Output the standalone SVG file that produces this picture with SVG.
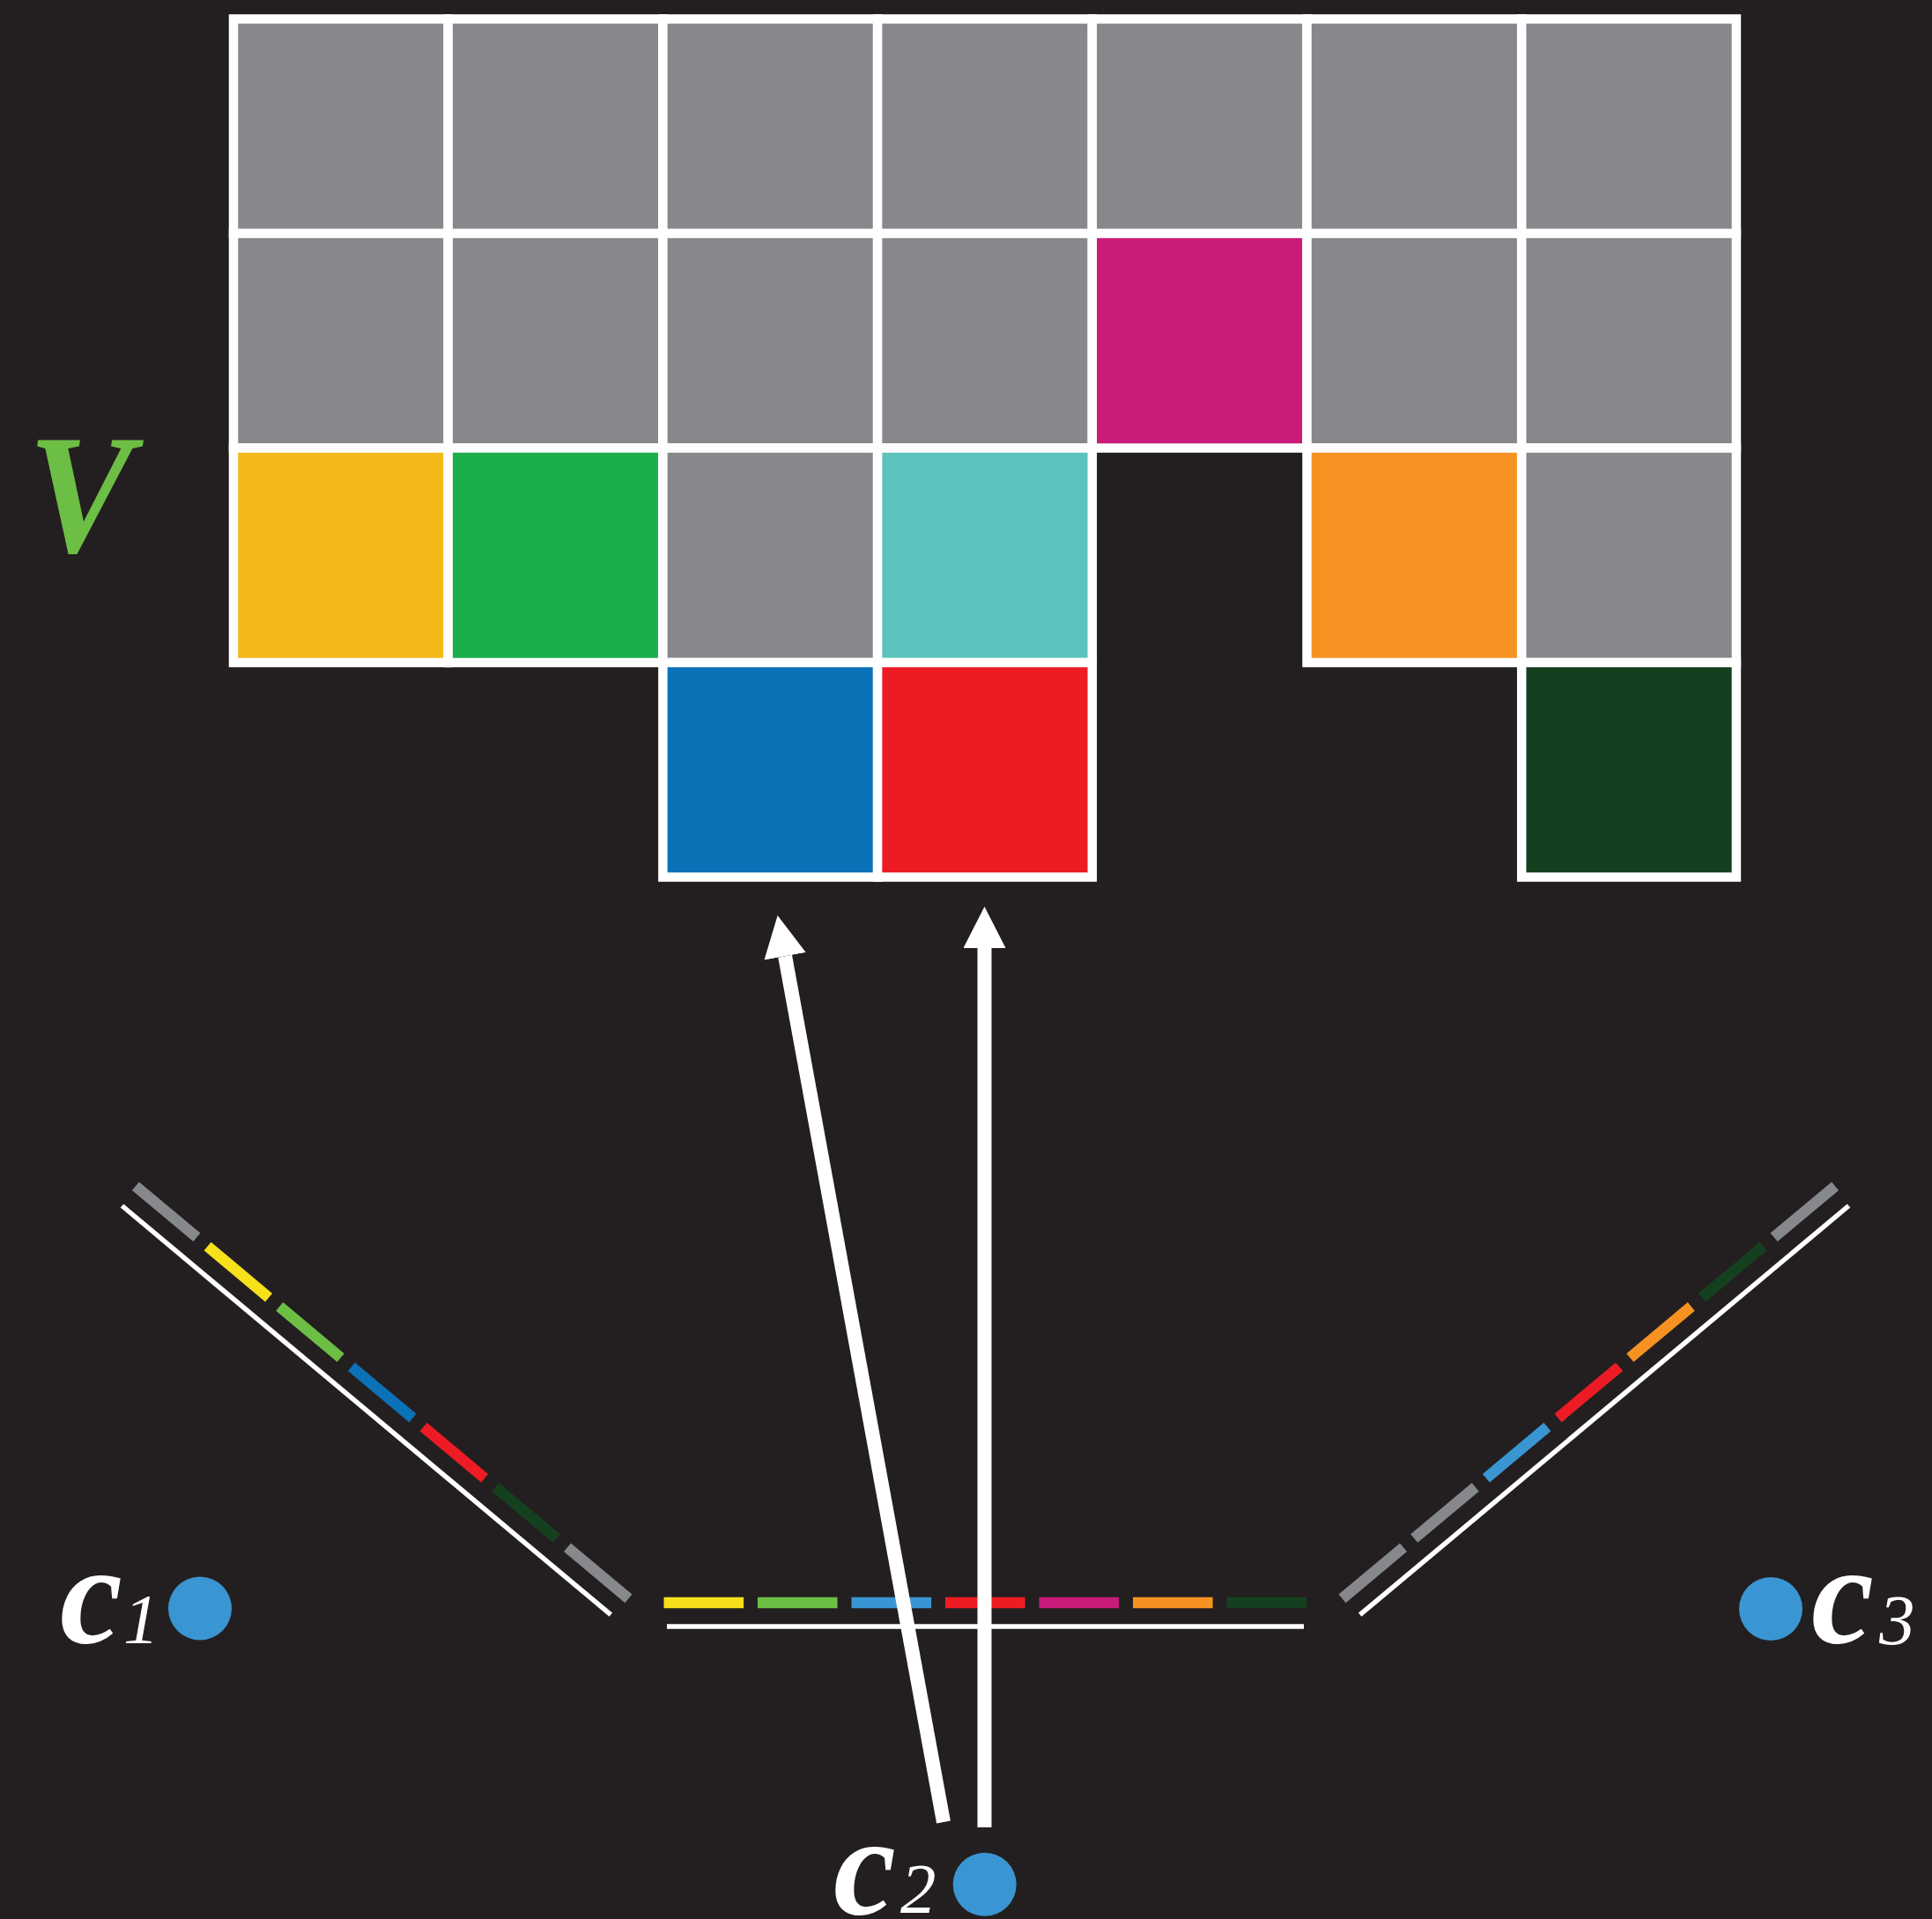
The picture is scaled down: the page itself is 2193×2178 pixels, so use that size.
<svg xmlns="http://www.w3.org/2000/svg" width="2193" height="2178" viewBox="0 0 2193 2178">
<style>
.cell{stroke:#FFFFFF;stroke-width:10.5}
.gray{fill:#87888C}
.band{stroke-width:12.5;fill:none}
.plane{stroke:#FFFFFF;stroke-width:5.5}
.s-gray{stroke:#87888C}.s-yel{stroke:#F6E11A}.s-lgrn{stroke:#6DBE45}.s-dblu{stroke:#0B72B8}.s-lblu{stroke:#3A96D2}
.s-red{stroke:#ED1C24}.s-mag{stroke:#C81B7A}.s-org{stroke:#F69221}.s-dgrn{stroke:#15401F}
.cam{fill:#3A96D2}
.lc{font-family:"Liberation Serif","Times New Roman",serif;font-style:italic;font-weight:bold;font-size:160px;fill:#FFFFFF}
.ln{font-family:"Liberation Serif","Times New Roman",serif;font-style:italic;font-weight:normal;font-size:81px;fill:#FFFFFF}
.arrow{stroke:#FFFFFF;stroke-width:16;fill:none}
</style>
<defs>
<marker id="head" markerUnits="userSpaceOnUse" markerWidth="47" markerHeight="48" viewBox="0 0 47 48" refX="0" refY="24" orient="auto">
<path d="M0,0 L47,24 L0,48 Z" fill="#FFFFFF"/>
</marker>
</defs>
<rect x="0" y="0" width="2193" height="2178" fill="#231F20"/>

<g id="label-V"><text transform="translate(31.8,626) scale(0.93,1)" x="0" y="0" style="font-family:'Liberation Serif','Times New Roman',serif;font-style:italic;font-weight:bold;font-size:192px;fill:#6DBE45">V</text></g>

<g id="grid">
<g id="r0c0"><rect class="cell gray" x="265" y="21.5" width="243.7" height="243.5"/></g>
<g id="r0c1"><rect class="cell gray" x="508.7" y="21.5" width="243.7" height="243.5"/></g>
<g id="r0c2"><rect class="cell gray" x="752.4" y="21.5" width="243.7" height="243.5"/></g>
<g id="r0c3"><rect class="cell gray" x="996.1" y="21.5" width="243.7" height="243.5"/></g>
<g id="r0c4"><rect class="cell gray" x="1239.8" y="21.5" width="243.7" height="243.5"/></g>
<g id="r0c5"><rect class="cell gray" x="1483.5" y="21.5" width="243.7" height="243.5"/></g>
<g id="r0c6"><rect class="cell gray" x="1727.2" y="21.5" width="243.7" height="243.5"/></g>

<g id="r1c0"><rect class="cell gray" x="265" y="265" width="243.7" height="243.5"/></g>
<g id="r1c1"><rect class="cell gray" x="508.7" y="265" width="243.7" height="243.5"/></g>
<g id="r1c2"><rect class="cell gray" x="752.4" y="265" width="243.7" height="243.5"/></g>
<g id="r1c3"><rect class="cell gray" x="996.1" y="265" width="243.7" height="243.5"/></g>
<g id="r1c4"><rect class="cell" fill="#C81B7A" x="1239.8" y="265" width="243.7" height="243.5"/></g>
<g id="r1c5"><rect class="cell gray" x="1483.5" y="265" width="243.7" height="243.5"/></g>
<g id="r1c6"><rect class="cell gray" x="1727.2" y="265" width="243.7" height="243.5"/></g>

<g id="r2c0"><rect class="cell" fill="#F5B81B" x="265" y="508.5" width="243.7" height="243.5"/></g>
<g id="r2c1"><rect class="cell" fill="#1BAE4B" x="508.7" y="508.5" width="243.7" height="243.5"/></g>
<g id="r2c2"><rect class="cell gray" x="752.4" y="508.5" width="243.7" height="243.5"/></g>
<g id="r2c3"><rect class="cell" fill="#5BC3BC" x="996.1" y="508.5" width="243.7" height="243.5"/></g>
<g id="r2c5"><rect class="cell" fill="#F69221" x="1483.5" y="508.5" width="243.7" height="243.5"/></g>
<g id="r2c6"><rect class="cell gray" x="1727.2" y="508.5" width="243.7" height="243.5"/></g>

<g id="r3c2"><rect class="cell" fill="#0B72B8" x="752.4" y="752" width="243.7" height="243.5"/></g>
<g id="r3c3"><rect class="cell" fill="#ED1C24" x="996.1" y="752" width="243.7" height="243.5"/></g>
<g id="r3c6"><rect class="cell" fill="#15401F" x="1727.2" y="752" width="243.7" height="243.5"/></g>
</g>

<g id="plane-left" transform="translate(138.5,1368.5) rotate(39.92)">
<line class="plane" x1="0" y1="0" x2="723.4" y2="0"/>
<line class="band s-gray" x1="-2.5" y1="-27" x2="88.1" y2="-27"/>
<line class="band s-yel" x1="104" y1="-27" x2="194.6" y2="-27"/>
<line class="band s-lgrn" x1="210.5" y1="-27" x2="301.1" y2="-27"/>
<line class="band s-dblu" x1="317" y1="-27" x2="407.6" y2="-27"/>
<line class="band s-red" x1="423.5" y1="-27" x2="514.1" y2="-27"/>
<line class="band s-dgrn" x1="530" y1="-27" x2="620.6" y2="-27"/>
<line class="band s-gray" x1="636.5" y1="-27" x2="727.1" y2="-27"/>
</g>

<g id="plane-bottom" transform="translate(757,1846)">
<line class="plane" x1="0" y1="0" x2="723" y2="0"/>
<line class="band s-yel" x1="-3.5" y1="-27" x2="87.1" y2="-27"/>
<line class="band s-lgrn" x1="103" y1="-27" x2="193.6" y2="-27"/>
<line class="band s-lblu" x1="209.5" y1="-27" x2="300.1" y2="-27"/>
<line class="band s-red" x1="316" y1="-27" x2="406.6" y2="-27"/>
<line class="band s-mag" x1="422.5" y1="-27" x2="513.1" y2="-27"/>
<line class="band s-org" x1="529" y1="-27" x2="619.6" y2="-27"/>
<line class="band s-dgrn" x1="635.5" y1="-27" x2="726.1" y2="-27"/>
</g>

<g id="plane-right" transform="translate(2098.5,1368.5) rotate(140.08)">
<line class="plane" x1="0" y1="0" x2="723.4" y2="0"/>
<line class="band s-gray" x1="-2.5" y1="27" x2="88.1" y2="27"/>
<line class="band s-dgrn" x1="104" y1="27" x2="194.6" y2="27"/>
<line class="band s-org" x1="210.5" y1="27" x2="301.1" y2="27"/>
<line class="band s-red" x1="317" y1="27" x2="407.6" y2="27"/>
<line class="band s-lblu" x1="423.5" y1="27" x2="514.1" y2="27"/>
<line class="band s-gray" x1="530" y1="27" x2="620.6" y2="27"/>
<line class="band s-gray" x1="636.5" y1="27" x2="727.1" y2="27"/>
</g>

<g id="camera-c1">
<circle class="cam" cx="227" cy="1825.5" r="36"/>
<text class="lc" x="68" y="1864">c</text>
<text class="ln" x="140" y="1865">1</text>
</g>
<g id="camera-c2">
<circle class="cam" cx="1117.7" cy="2138.7" r="36"/>
<text class="lc" x="946" y="2172">c</text>
<text class="ln" x="1022" y="2171">2</text>
</g>
<g id="camera-c3">
<circle class="cam" cx="2010" cy="1826" r="36"/>
<text class="lc" x="2056" y="1864">c</text>
<text class="ln" x="2133" y="1866">3</text>
</g>

<g id="connectors">
<line class="arrow" x1="1071" y1="2068" x2="891.1" y2="1085.3" marker-end="url(#head)"/>
<line class="arrow" x1="1117.5" y1="2074" x2="1117.5" y2="1076" marker-end="url(#head)"/>
</g>
</svg>
